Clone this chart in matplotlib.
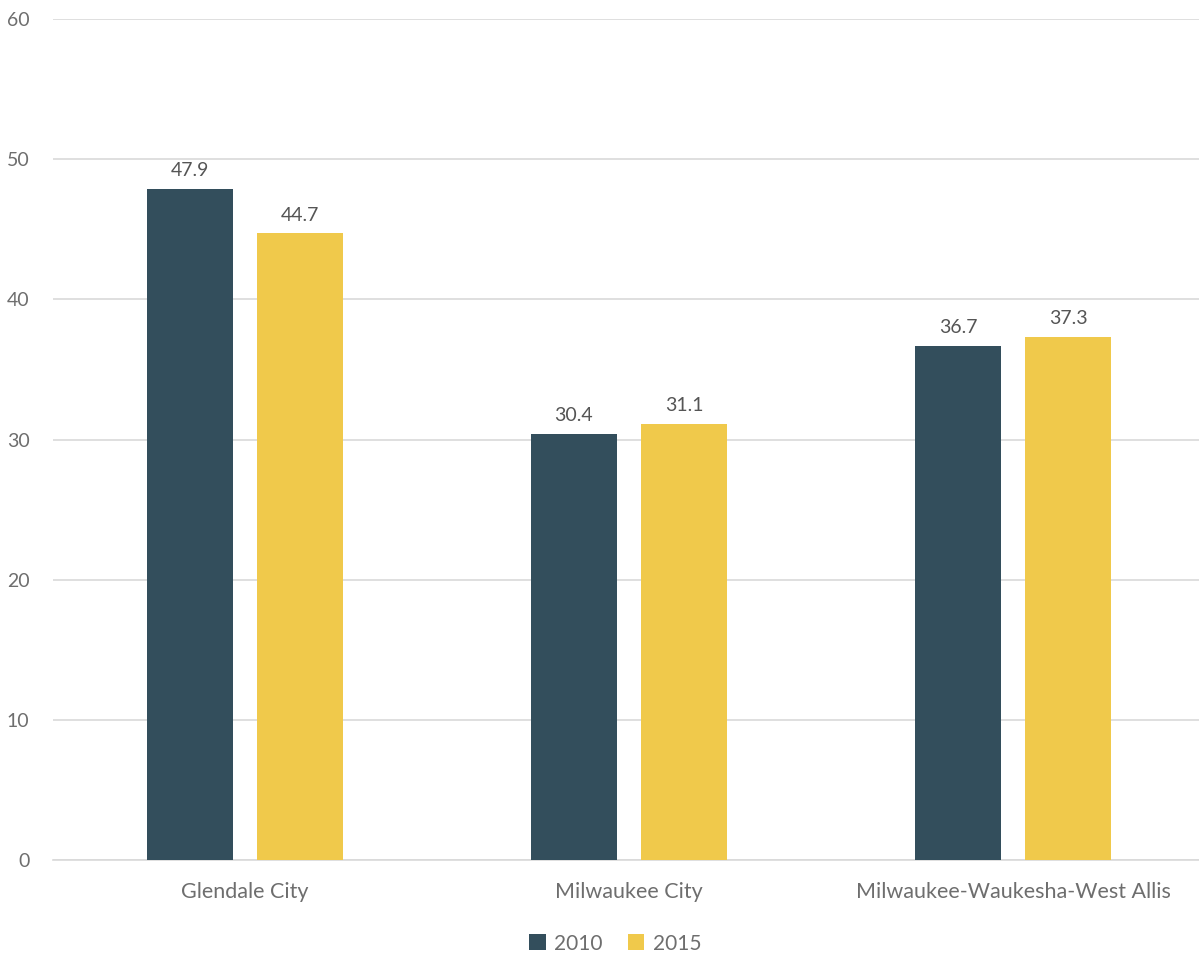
import numpy as np
import matplotlib.pyplot as plt

# 数据
categories = ["Glendale City", "Milwaukee City", "Milwaukee-Waukesha-West Allis"]
series_names = ["2010", "2015"]
values_2010 = [47.9, 30.4, 36.7]
values_2015 = [44.7, 31.1, 37.3]
y_ticks = [0, 10, 20, 30, 40, 50, 60]

plt.rcParams["font.family"] = ["Lato", "DejaVu Sans"]

text_color = "#6e6e6e"
colors = ["#334e5c", "#f0c94b"]

fig = plt.figure(figsize=(11.99, 9.57), dpi=100)
ax = fig.add_axes([0.0442, 0.1014, 0.9608, 0.8787])

x = np.arange(len(categories))
width = 0.224
offset = (width + 0.063) / 2

for vals, name, color, dx in zip([values_2010, values_2015], series_names, colors, [-offset, offset]):
    bars = ax.bar(x + dx, vals, width, color=color, label=name, zorder=3)
    for b, v in zip(bars, vals):
        ax.annotate(f"{v:.1f}", (b.get_x() + b.get_width() / 2, v),
                    xytext=(0, 7), textcoords="offset points",
                    ha="center", va="bottom", fontsize=14, color="#555555")

ax.set_xlim(-0.5, 2.5)
ax.set_ylim(0, 60)
ax.set_yticks(y_ticks)
ax.set_xticks(x)
ax.set_xticklabels(categories)
ax.grid(axis="y", color="#d9d9d9", linewidth=1.2, zorder=0)
ax.tick_params(axis="y", length=0, labelsize=14, colors=text_color, pad=17)
ax.tick_params(axis="x", length=0, labelsize=15.5, colors=text_color, pad=16)
for s in ["top", "right", "left"]:
    ax.spines[s].set_visible(False)
ax.spines["bottom"].set_color("#d9d9d9")
ax.spines["bottom"].set_linewidth(1.2)

fig.legend(loc="lower center", bbox_to_anchor=(0.513, -0.016), ncol=2, frameon=False,
           fontsize=15, handlelength=0.8, handleheight=0.8, handletextpad=0.4,
           columnspacing=1.2, labelcolor=text_color)

plt.savefig("out.png", dpi=100)
